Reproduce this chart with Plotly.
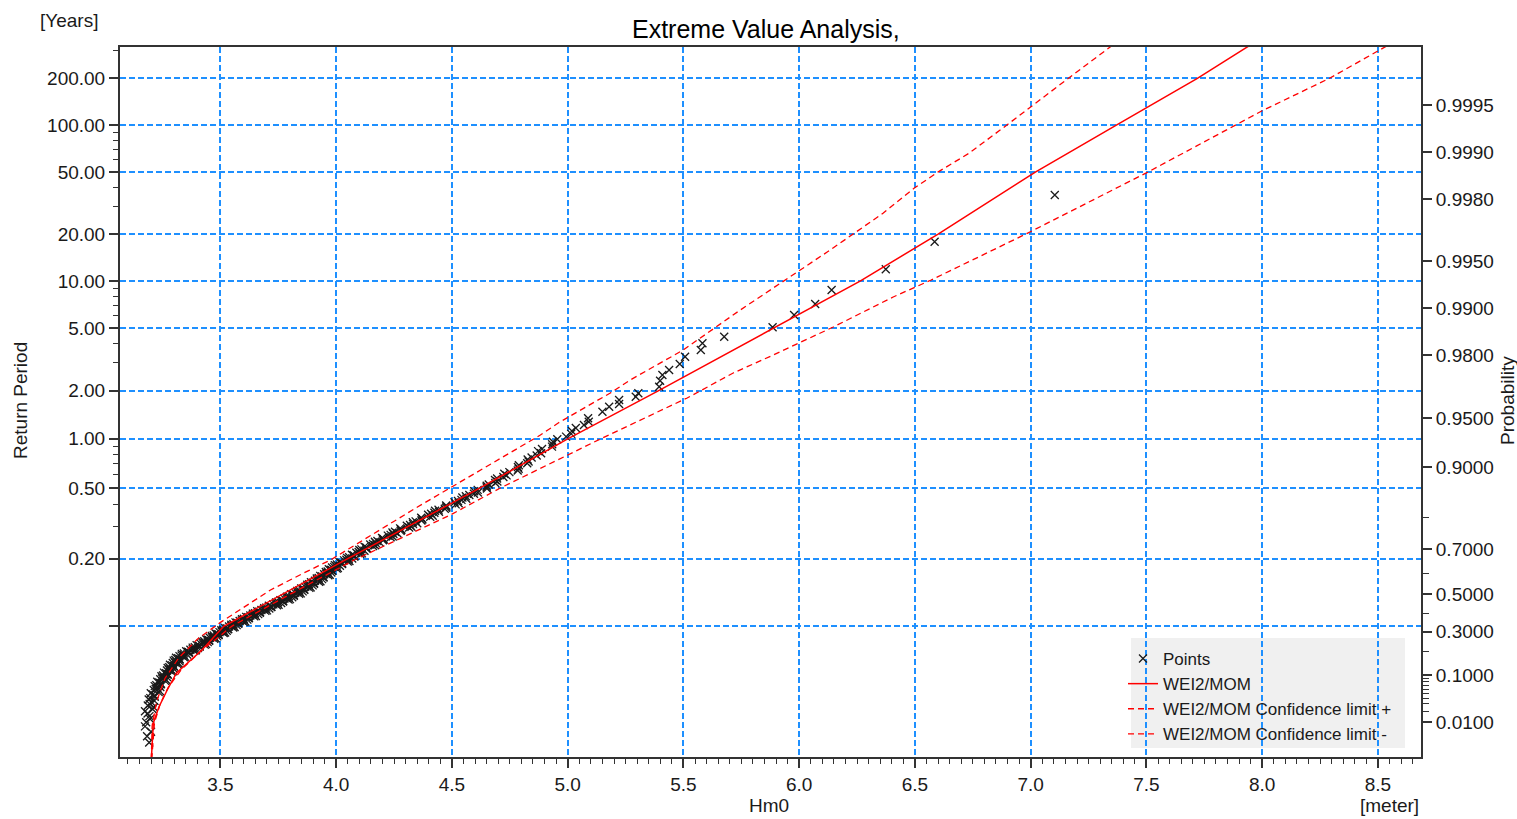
import numpy as np
import plotly.graph_objects as go

# ---------------------------------------------------------------- scale
EVENTS_PER_YEAR = 14.9          # mean number of POT events per year
X_RANGE = [3.066, 8.686]        # Hm0 [m]
P_RANGE = [0.000456, 0.999789]  # non-exceedance probability at bottom / top of the paper

# ---------------------------------------------------------------- ticks
X_TICK0, X_DTICK, X_MINOR_DTICK = 3.5, 0.5, 0.05
T_TICKS = [0.1, 0.2, 0.5, 1, 2, 5, 10, 20, 50, 100, 200]
T_TICK_TEXT = ["", "0.20", "0.50", "1.00", "2.00", "5.00", "10.00", "20.00", "50.00", "100.00", "200.00"]
T_MINOR = [0.3, 0.4, 0.6, 0.7, 0.8, 0.9, 3, 4, 6, 7, 8, 9, 30, 40, 60, 70, 80, 90, 300]
P_TICKS = [0.01, 0.1, 0.3, 0.5, 0.7, 0.9, 0.95, 0.98, 0.99, 0.995, 0.998, 0.999, 0.9995]
P_MINOR = [0.02, 0.03, 0.04, 0.05, 0.06, 0.07, 0.08, 0.09, 0.2, 0.4, 0.6, 0.8]

# ---------------------------------------------------------------- data
# sample points (plotting position p, Hm0)
POINTS_LOW_P = [
    0.002, 0.0035,
    0.005, 0.010, 0.015, 0.020, 0.025, 0.030, 0.035, 0.040, 0.045, 0.050,
    0.055, 0.060, 0.065, 0.070, 0.075, 0.080, 0.085, 0.090, 0.095, 0.100,
    0.105, 0.110, 0.115, 0.120, 0.125, 0.130, 0.135, 0.140, 0.145, 0.150,
    0.155, 0.160, 0.165, 0.170, 0.175, 0.180, 0.185, 0.190, 0.195, 0.200,
    0.205, 0.210, 0.215, 0.220, 0.225, 0.230, 0.235, 0.240, 0.245, 0.250,
    0.255, 0.260, 0.265, 0.270, 0.275, 0.280, 0.285, 0.290, 0.295, 0.300,
    0.305, 0.310, 0.315, 0.320, 0.325, 0.330, 0.335, 0.340, 0.345, 0.350,
    0.355, 0.360, 0.365, 0.370, 0.375, 0.380, 0.385, 0.390, 0.395, 0.400,
    0.405, 0.410, 0.415, 0.420, 0.425, 0.430, 0.435, 0.440, 0.445, 0.450,
    0.455, 0.460, 0.465, 0.470, 0.475, 0.480, 0.485, 0.490, 0.495, 0.500,
    0.505, 0.510, 0.515, 0.520, 0.525, 0.530, 0.535, 0.540, 0.545, 0.550,
    0.555, 0.560, 0.565, 0.570, 0.575, 0.580, 0.585, 0.590, 0.595, 0.600,
    0.605, 0.610, 0.615, 0.620, 0.625, 0.630, 0.635, 0.640, 0.645, 0.650,
    0.655, 0.660, 0.665, 0.670, 0.675, 0.680, 0.685, 0.690, 0.695, 0.700,
    0.705, 0.710, 0.715, 0.720, 0.725, 0.730, 0.735, 0.740, 0.745, 0.750,
    0.755, 0.760, 0.765, 0.770, 0.775, 0.780, 0.785, 0.790, 0.795, 0.800,
    0.805, 0.810, 0.815, 0.820, 0.825, 0.830, 0.835, 0.840, 0.845, 0.850,
    0.855, 0.860, 0.865, 0.870, 0.875, 0.880, 0.885, 0.890, 0.895, 0.900,
    0.905, 0.910, 0.915, 0.920, 0.925, 0.930, 0.935, 0.940, 0.945, 0.950,
]
POINTS_LOW_HM0 = [
    3.192, 3.183,
    3.200, 3.179, 3.193, 3.174, 3.212, 3.194, 3.215, 3.197, 3.215, 3.199,
    3.238, 3.220, 3.240, 3.223, 3.242, 3.227, 3.266, 3.248, 3.269, 3.252,
    3.271, 3.256, 3.294, 3.277, 3.297, 3.279, 3.298, 3.282, 3.320, 3.302,
    3.323, 3.305, 3.323, 3.308, 3.347, 3.332, 3.356, 3.342, 3.364, 3.352,
    3.394, 3.380, 3.403, 3.389, 3.410, 3.397, 3.438, 3.423, 3.445, 3.430,
    3.451, 3.438, 3.479, 3.463, 3.486, 3.471, 3.492, 3.479, 3.520, 3.505,
    3.527, 3.512, 3.533, 3.520, 3.561, 3.547, 3.570, 3.556, 3.577, 3.565,
    3.607, 3.592, 3.616, 3.601, 3.623, 3.611, 3.653, 3.639, 3.663, 3.649,
    3.671, 3.659, 3.701, 3.687, 3.711, 3.698, 3.720, 3.709, 3.751, 3.738,
    3.762, 3.749, 3.771, 3.759, 3.800, 3.786, 3.810, 3.796, 3.817, 3.805,
    3.847, 3.832, 3.855, 3.841, 3.862, 3.849, 3.890, 3.875, 3.898, 3.883,
    3.904, 3.891, 3.932, 3.917, 3.939, 3.924, 3.945, 3.931, 3.972, 3.957,
    3.979, 3.963, 3.982, 3.968, 4.007, 3.991, 4.016, 4.003, 4.026, 4.014,
    4.057, 4.044, 4.069, 4.056, 4.079, 4.068, 4.111, 4.097, 4.122, 4.109,
    4.132, 4.122, 4.168, 4.159, 4.188, 4.178, 4.205, 4.198, 4.244, 4.235,
    4.264, 4.254, 4.281, 4.276, 4.325, 4.319, 4.350, 4.343, 4.372, 4.367,
    4.417, 4.410, 4.444, 4.442, 4.475, 4.475, 4.529, 4.526, 4.562, 4.560,
    4.595, 4.596, 4.651, 4.650, 4.687, 4.686, 4.722, 4.726, 4.784, 4.785,
    4.825, 4.827, 4.866, 4.872, 4.932, 4.936, 4.993, 5.018, 5.070, 5.088,
]
POINTS_FILL_P = [
    0.0075, 0.0125, 0.0175, 0.0225, 0.0275, 0.0325, 0.0375, 0.0425, 0.0475, 0.0525,
    0.0575, 0.0625, 0.0675, 0.0725, 0.0775, 0.0825, 0.0875, 0.0925, 0.0975, 0.1025,
    0.1075, 0.1125, 0.1175, 0.1225, 0.1275, 0.1325, 0.1375, 0.1425, 0.1475, 0.1525,
    0.1575, 0.1625, 0.1675, 0.1725, 0.1775, 0.1825, 0.1875, 0.1925, 0.1975, 0.2025,
    0.2075, 0.2125, 0.2175, 0.2225, 0.2275, 0.2325, 0.2375, 0.2425, 0.2475, 0.2525,
    0.2575, 0.2625, 0.2675, 0.2725, 0.2775, 0.2825, 0.2875, 0.2925, 0.2975, 0.3025,
    0.3075, 0.3125, 0.3175, 0.3225, 0.3275, 0.3325, 0.3375, 0.3425, 0.3475, 0.3525,
    0.3575, 0.3625, 0.3675, 0.3725, 0.3775, 0.3825, 0.3875, 0.3925, 0.3975, 0.4025,
    0.4075, 0.4125, 0.4175, 0.4225, 0.4275, 0.4325, 0.4375, 0.4425, 0.4475, 0.4525,
    0.4575, 0.4625, 0.4675, 0.4725, 0.4775, 0.4825, 0.4875, 0.4925, 0.4975, 0.5025,
    0.5075, 0.5125, 0.5175, 0.5225, 0.5275, 0.5325, 0.5375, 0.5425, 0.5475, 0.5525,
    0.5575, 0.5625, 0.5675, 0.5725, 0.5775, 0.5825, 0.5875, 0.5925, 0.5975, 0.6025,
    0.6075, 0.6125, 0.6175, 0.6225, 0.6275, 0.6325, 0.6375, 0.6425, 0.6475, 0.6525,
    0.6575, 0.6625, 0.6675, 0.6725, 0.6775, 0.6825, 0.6875, 0.6925, 0.6975, 0.7025,
    0.7075, 0.7125, 0.7175, 0.7225, 0.7275, 0.7325, 0.7375, 0.7425, 0.7475, 0.7525,
    0.7575, 0.7625, 0.7675, 0.7725, 0.7775, 0.7825, 0.7875, 0.7925, 0.7975, 0.8025,
    0.8075, 0.8125, 0.8175, 0.8225, 0.8275, 0.8325, 0.8375, 0.8425, 0.8475,
]
POINTS_FILL_HM0 = [
    3.174, 3.196, 3.185, 3.207, 3.186, 3.202, 3.190, 3.216, 3.208, 3.233,
    3.212, 3.227, 3.216, 3.243, 3.236, 3.261, 3.240, 3.256, 3.245, 3.272,
    3.265, 3.289, 3.269, 3.284, 3.272, 3.299, 3.291, 3.315, 3.294, 3.310,
    3.298, 3.324, 3.317, 3.342, 3.323, 3.341, 3.333, 3.363, 3.359, 3.387,
    3.370, 3.389, 3.380, 3.410, 3.405, 3.432, 3.414, 3.431, 3.422, 3.451,
    3.446, 3.473, 3.454, 3.472, 3.463, 3.492, 3.487, 3.514, 3.496, 3.513,
    3.504, 3.533, 3.528, 3.555, 3.537, 3.556, 3.547, 3.577, 3.572, 3.600,
    3.583, 3.601, 3.593, 3.622, 3.618, 3.646, 3.629, 3.648, 3.640, 3.670,
    3.666, 3.694, 3.677, 3.696, 3.689, 3.719, 3.716, 3.744, 3.728, 3.747,
    3.740, 3.770, 3.766, 3.794, 3.776, 3.795, 3.787, 3.817, 3.812, 3.840,
    3.823, 3.841, 3.832, 3.862, 3.857, 3.884, 3.866, 3.884, 3.875, 3.904,
    3.899, 3.926, 3.908, 3.925, 3.916, 3.945, 3.939, 3.966, 3.948, 3.965,
    3.955, 3.983, 3.976, 4.002, 3.982, 4.001, 3.994, 4.025, 4.021, 4.050,
    4.034, 4.054, 4.047, 4.078, 4.075, 4.104, 4.087, 4.107, 4.100, 4.131,
    4.128, 4.159, 4.147, 4.171, 4.167, 4.202, 4.203, 4.235, 4.223, 4.247,
    4.243, 4.278, 4.280, 4.315, 4.305, 4.332, 4.331, 4.368, 4.371, 4.406,
    4.397, 4.424, 4.427, 4.469, 4.476, 4.516, 4.511, 4.541, 4.545,
]
POINTS_MID_P = [0.8525, 0.8575, 0.8625, 0.8675, 0.8725, 0.8775, 0.8825, 0.8875, 0.8925, 0.8975,
                0.9025, 0.9075, 0.9125, 0.9175, 0.9225, 0.9275, 0.9325, 0.9375, 0.9425, 0.9475]
POINTS_MID_HM0 = [4.575, 4.612, 4.611, 4.650, 4.659, 4.696, 4.695, 4.736, 4.748, 4.788,
                  4.789, 4.831, 4.844, 4.885, 4.889, 4.933, 4.955, 5.015, 5.035, 5.091]
POINTS_TOP_P = [0.954555, 0.957720, 0.959340, 0.961626, 0.963435, 0.965190, 0.968381, 0.971028,
                0.973332, 0.975213, 0.977294, 0.979599, 0.981502, 0.983235, 0.984782, 0.986743,
                0.988926, 0.990584, 0.992338, 0.994357, 0.996245, 0.998116]
POINTS_TOP_HM0 = [5.150, 5.179, 5.222, 5.222, 5.294, 5.305, 5.395, 5.399,
                  5.409, 5.438, 5.484, 5.507, 5.575, 5.582, 5.676, 5.885,
                  5.978, 6.069, 6.140, 6.374, 6.585, 7.104]

# fitted WEI2/MOM distribution
FIT_P = [0.0001, 0.0096, 0.0255, 0.0576, 0.1087, 0.2062, 0.328859, 0.664430, 0.865772,
         0.932886, 0.966443, 0.986577, 0.993289, 0.996644, 0.998658, 0.999329, 0.999664, 0.9998]
FIT_HM0 = [3.199, 3.210, 3.234, 3.270, 3.310, 3.420, 3.514, 4.050, 4.620,
           5.000, 5.391, 5.889, 6.263, 6.600, 7.020, 7.370, 7.720, 7.960]

# confidence limit +
CLP_P = [0.0001, 0.01, 0.03, 0.065, 0.12, 0.206, 0.2405, 0.33, 0.50, 0.66, 0.807037, 0.866060,
         0.932702, 0.962742, 0.974111, 0.980101, 0.986798, 0.991516, 0.993392, 0.996681,
         0.998653, 0.999458, 0.999665, 0.9998]
CLP_HM0 = [3.200, 3.215, 3.240, 3.275, 3.330, 3.420, 3.460, 3.550, 3.800, 4.080, 4.493, 4.709,
           5.141, 5.516, 5.715, 5.888, 6.147, 6.406, 6.570, 6.985,
           7.504, 8.000, 8.291, 8.558]

# confidence limit -
CLM_P = [0.0001, 0.008, 0.035, 0.09, 0.17, 0.26, 0.35, 0.43, 0.5218, 0.6032, 0.658806, 0.826546,
         0.895740, 0.936440, 0.946523, 0.965353, 0.971319, 0.981503, 0.989713, 0.994296,
         0.995629, 0.997533, 0.998294, 0.998658, 0.998983, 0.999329, 0.999489, 0.999665, 0.9998]
CLM_HM0 = [3.200, 3.205, 3.225, 3.260, 3.320, 3.400, 3.500, 3.600, 3.716, 3.860, 3.975, 4.351,
           4.623, 4.882, 4.959, 5.184, 5.270, 5.499, 5.745, 6.004,
           6.121, 6.362, 6.496, 6.599, 6.733, 6.896, 7.000, 7.163, 7.364]


# ---------------------------------------------------------------- probability paper
def gumbel(p):
    p = np.asarray(p, dtype=float)
    return -np.log(-np.log(p))


def prob_from_T(T):
    return 1.0 - 1.0 / (EVENTS_PER_YEAR * np.asarray(T, dtype=float))


Y_RANGE = list(gumbel(P_RANGE))

GRID_BLUE = "#1E90FF"
AXIS_COL = "#333333"
TXT = "#1a1a1a"
FONT = "Arial, Liberation Sans, sans-serif"

pts_p = POINTS_LOW_P + POINTS_FILL_P + POINTS_MID_P + POINTS_TOP_P
pts_h = POINTS_LOW_HM0 + POINTS_FILL_HM0 + POINTS_MID_HM0 + POINTS_TOP_HM0

fig = go.Figure()
fig.add_trace(go.Scatter(
    x=pts_h, y=gumbel(pts_p), mode="markers", name="Points",
    marker=dict(symbol="x-thin", size=8, color="#1a1a1a",
                line=dict(width=1.3, color="#1a1a1a")),
))
fig.add_trace(go.Scatter(
    x=FIT_HM0, y=gumbel(FIT_P), mode="lines", name="WEI2/MOM",
    line=dict(color="#FF0000", width=1.5),
))
fig.add_trace(go.Scatter(
    x=CLP_HM0, y=gumbel(CLP_P), mode="lines", name="WEI2/MOM Confidence limit +",
    line=dict(color="#FF0000", width=1.3, dash="6px,4px"),
))
# drawn on the (identically scaled) right probability axis so that axis is rendered
fig.add_trace(go.Scatter(
    x=CLM_HM0, y=gumbel(CLM_P), mode="lines", name="WEI2/MOM Confidence limit -",
    line=dict(color="#FF0000", width=1.3, dash="6px,4px"), yaxis="y2",
))

W, H = 1517, 819
L, R, T, B = 120, 96, 47, 62
PW, PH = W - L - R, H - T - B


def px_x(px):
    return (px - L) / PW


def px_y(py):
    return (H - B - py) / PH


fig.update_layout(
    width=W, height=H,
    margin=dict(l=L, r=R, t=T, b=B),
    paper_bgcolor="white",
    plot_bgcolor="rgba(0,0,0,0)",
    font=dict(family=FONT, size=19, color=TXT),
    xaxis=dict(
        range=X_RANGE, tickmode="linear", tick0=X_TICK0, dtick=X_DTICK, tickformat=".1f",
        showgrid=True, gridcolor=GRID_BLUE, gridwidth=1.5, griddash="6px,3px",
        ticks="outside", ticklen=9, tickwidth=1.5, tickcolor=AXIS_COL,
        minor=dict(tick0=X_TICK0, dtick=X_MINOR_DTICK, ticks="outside", ticklen=5,
                   tickwidth=1.2, tickcolor=AXIS_COL, showgrid=False),
        showline=True, mirror=True, linecolor=AXIS_COL, linewidth=2, zeroline=False,
    ),
    yaxis=dict(
        range=Y_RANGE, tickmode="array", tickvals=gumbel(prob_from_T(T_TICKS)), ticktext=T_TICK_TEXT,
        showgrid=True, gridcolor=GRID_BLUE, gridwidth=1.5, griddash="6px,3px",
        ticks="outside", ticklen=9, tickwidth=1.5, tickcolor=AXIS_COL,
        minor=dict(tickmode="array", tickvals=gumbel(prob_from_T(T_MINOR)), ticks="outside",
                   ticklen=5, tickwidth=1.2, tickcolor=AXIS_COL, showgrid=False),
        showline=True, linecolor=AXIS_COL, linewidth=2, zeroline=False,
    ),
    yaxis2=dict(
        range=Y_RANGE, overlaying="y", side="right",
        tickmode="array", tickvals=gumbel(P_TICKS), ticktext=[f"{p:.4f}" for p in P_TICKS],
        showgrid=False, ticks="outside", ticklen=9, tickwidth=1.5, tickcolor=AXIS_COL,
        minor=dict(tickmode="array", tickvals=gumbel(P_MINOR), ticks="outside",
                   ticklen=6, tickwidth=1.2, tickcolor=AXIS_COL, showgrid=False),
        showline=True, linecolor=AXIS_COL, linewidth=2, zeroline=False,
    ),
    showlegend=True,
    legend=dict(x=px_x(1123), y=px_y(641), xanchor="left", yanchor="top",
                bgcolor="rgba(0,0,0,0)", font=dict(size=17, color=TXT), tracegroupgap=0),
    shapes=[dict(type="rect", xref="paper", yref="paper", layer="below",
                 x0=px_x(1131), x1=px_x(1405), y0=px_y(748), y1=px_y(638),
                 fillcolor="#F0F0F0", line=dict(width=0))],
    annotations=[
        dict(text="Extreme Value Analysis,", xref="paper", yref="paper", x=px_x(766), y=px_y(29),
             showarrow=False, font=dict(size=25, color="#000000"), xanchor="center", yanchor="middle"),
        dict(text="[Years]", xref="paper", yref="paper", x=px_x(38), y=px_y(20),
             showarrow=False, xanchor="left", yanchor="middle"),
        dict(text="Return Period", xref="paper", yref="paper", x=px_x(20), y=px_y(401),
             showarrow=False, textangle=-90, xanchor="center", yanchor="middle"),
        dict(text="Probability", xref="paper", yref="paper", x=px_x(1507), y=px_y(401),
             showarrow=False, textangle=-90, xanchor="center", yanchor="middle"),
        dict(text="Hm0", xref="paper", yref="paper", x=px_x(769), y=px_y(806),
             showarrow=False, xanchor="center", yanchor="middle"),
        dict(text="[meter]", xref="paper", yref="paper", x=px_x(1421), y=px_y(806),
             showarrow=False, xanchor="right", yanchor="middle"),
    ],
)

fig.write_html("out.html", config={"displayModeBar": False},
               post_script="document.body.style.margin='0';")
